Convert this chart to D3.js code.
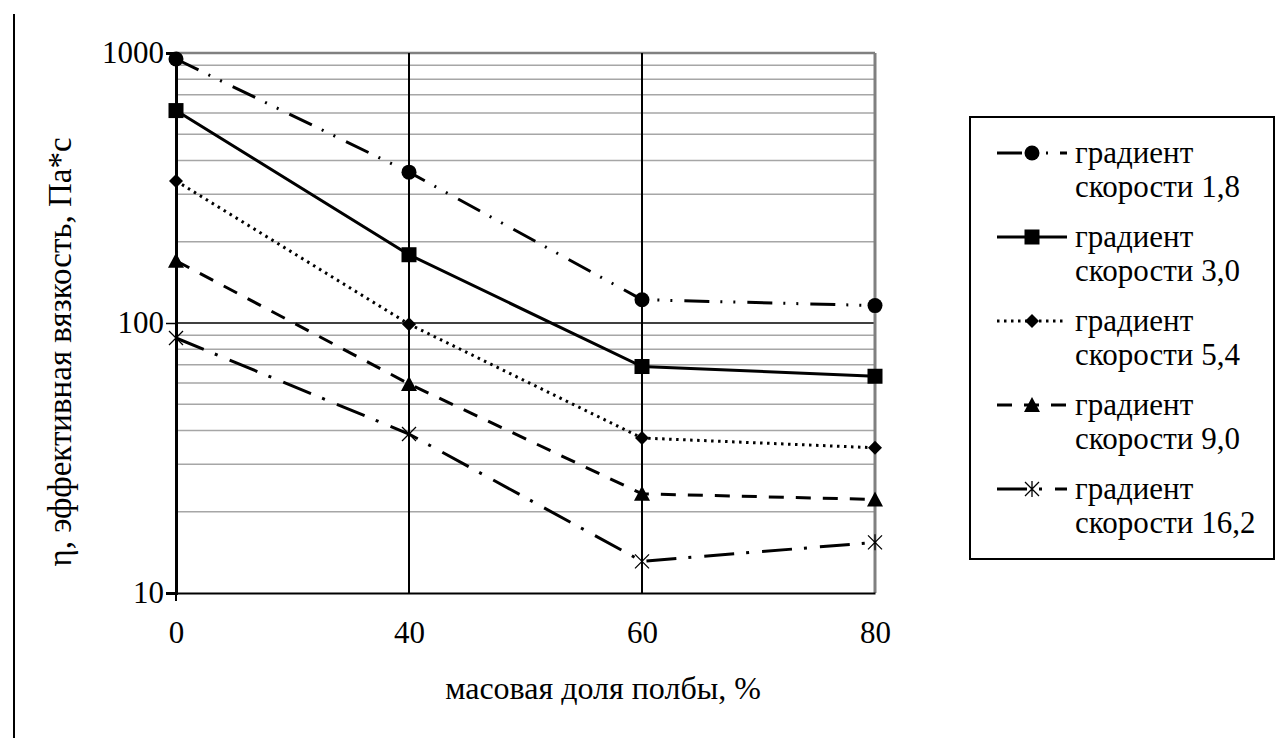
<!DOCTYPE html>
<html>
<head>
<meta charset="utf-8">
<script src="https://cdn.jsdelivr.net/npm/d3@7"></script>
<style>
    html, body { margin: 0; padding: 0; background: #fff; overflow: hidden; }
    svg { display: block; }
</style>
</head>
<body>
<svg id="chart"></svg>
<script>
const CATEGORIES = ['0', '40', '60', '80'];
const SERIES_NAMES = ['скорости 1,8', 'скорости 3,0', 'скорости 5,4', 'скорости 9,0', 'скорости 16,2'];
const V_18 = [950, 362, 122, 116];
const V_30 = [612, 179, 69, 63.5];
const V_54 = [336, 99, 37.5, 34.5];
const V_90 = [170, 59.5, 23.3, 22.2];
const V_162 = [88, 38.8, 13.1, 15.4];
const Y_TICKS = [10, 100, 1000];

const outerWidth = 1278;
const outerHeight = 738;
const margin = { top: 53, left: 176, bottom: 145, right: 403 };
const innerWidth = outerWidth - margin.left - margin.right;
const innerHeight = outerHeight - margin.top - margin.bottom;
const FONT = 'Liberation Serif';

const styles = [
    { dash: '25,11,2,11,2,12', marker: 'circle' },
    { dash: null, marker: 'square' },
    { dash: '2.5,4.5', marker: 'diamond' },
    { dash: '15,12', marker: 'triangle' },
    { dash: '30,12,3,13', marker: 'star' }
];
const DATA = [V_18, V_30, V_54, V_90, V_162].map((vals, i) => ({
    name: SERIES_NAMES[i],
    values: vals.map((v, j) => ({ cat: CATEGORIES[j], v })),
    ...styles[i]
}));

const xScale = d3.scalePoint()
    .domain(CATEGORIES)
    .range([0, innerWidth]);

const yScale = d3.scaleLog()
    .domain([10, 1000])
    .range([innerHeight, 0]);

const svg = d3.select('#chart')
    .attr('width', outerWidth)
    .attr('height', outerHeight)
    .attr('font-family', FONT);

// left frame line
svg.append('line')
    .attr('x1', 14).attr('x2', 14)
    .attr('y1', 14).attr('y2', outerHeight)
    .attr('stroke', '#000')
    .attr('stroke-width', 2);

const g = svg.append('g')
    .attr('transform', `translate(${margin.left},${margin.top})`);

// minor gridlines
const minor = [];
[10, 100].forEach(base => {
    for (let k = 2; k <= 9; k++) minor.push(base * k);
});
g.selectAll('.minor')
    .data(minor)
    .join('line')
        .classed('minor', true)
        .attr('x1', 0).attr('x2', innerWidth)
        .attr('y1', d => yScale(d)).attr('y2', d => yScale(d))
        .attr('stroke', '#a6a6a6')
        .attr('stroke-width', 1.5);

g.append('line')
    .attr('x1', 0).attr('x2', innerWidth)
    .attr('y1', yScale(1000)).attr('y2', yScale(1000))
    .attr('stroke', '#808080')
    .attr('stroke-width', 2.5);

g.append('line')
    .attr('x1', 0).attr('x2', innerWidth)
    .attr('y1', yScale(100)).attr('y2', yScale(100))
    .attr('stroke', '#000')
    .attr('stroke-width', 1.5);

// vertical gridlines
g.selectAll('.vgrid')
    .data(CATEGORIES.slice(1))
    .join('line')
        .classed('vgrid', true)
        .attr('x1', d => xScale(d)).attr('x2', d => xScale(d))
        .attr('y1', 0).attr('y2', innerHeight)
        .attr('stroke', d => d === '80' ? '#808080' : '#000')
        .attr('stroke-width', d => d === '80' ? 3 : 2);

// axes
const xAxis = d3.axisBottom(xScale).tickSize(0).tickPadding(28);
g.append('g')
    .classed('xAxis', true)
    .attr('transform', `translate(0,${innerHeight})`)
    .call(xAxis)
    .attr('font-family', FONT)
    .attr('font-size', 31)
    .call(s => s.select('.domain').attr('stroke', '#000').attr('stroke-width', 2))
    .call(s => s.selectAll('text').attr('fill', '#000'));

g.append('line')
    .attr('x1', 0).attr('x2', 0)
    .attr('y1', innerHeight).attr('y2', innerHeight + 8)
    .attr('stroke', '#000')
    .attr('stroke-width', 2);

const yAxis = d3.axisLeft(yScale)
    .tickValues(Y_TICKS)
    .tickFormat(d3.format('d'))
    .tickSize(10)
    .tickPadding(2);
g.append('g')
    .classed('yAxis', true)
    .call(yAxis)
    .attr('font-family', FONT)
    .attr('font-size', 31)
    .call(s => s.select('.domain').attr('stroke', '#000').attr('stroke-width', 3))
    .call(s => s.selectAll('.tick line').attr('stroke', '#000').attr('stroke-width', 1.5))
    .call(s => s.selectAll('text').attr('fill', '#000'));

// series
const line = d3.line()
    .x(d => xScale(d.cat))
    .y(d => yScale(d.v));

g.selectAll('.series')
    .data(DATA)
    .join('path')
        .classed('series', true)
        .attr('d', d => line(d.values))
        .attr('fill', 'none')
        .attr('stroke', '#000')
        .attr('stroke-width', 3)
        .attr('stroke-dasharray', d => d.dash);

const drawMarker = (sel, type, x, y) => {
    if (type === 'circle') {
        sel.append('circle').attr('cx', x).attr('cy', y).attr('r', 7.5).attr('fill', '#000');
    } else if (type === 'square') {
        sel.append('rect').attr('x', x - 7.5).attr('y', y - 7.5).attr('width', 15).attr('height', 15).attr('fill', '#000');
    } else if (type === 'diamond') {
        sel.append('path').attr('d', `M${x},${y - 7}L${x + 7},${y}L${x},${y + 7}L${x - 7},${y}Z`).attr('fill', '#000');
    } else if (type === 'triangle') {
        sel.append('path').attr('d', `M${x},${y - 8}L${x + 8},${y + 7}L${x - 8},${y + 7}Z`).attr('fill', '#000');
    } else {
        sel.append('path')
            .attr('d', `M${x - 7},${y - 7}L${x + 7},${y + 7}M${x - 7},${y + 7}L${x + 7},${y - 7}M${x},${y - 8}L${x},${y + 8}`)
            .attr('stroke', '#000').attr('stroke-width', 1.3).attr('fill', 'none');
    }
};

DATA.forEach(s => {
    const mg = g.append('g').classed('markers', true);
    s.values.forEach(p => drawMarker(mg, s.marker, xScale(p.cat), yScale(p.v)));
});

// axis titles
svg.append('text')
    .attr('x', 603).attr('y', 699)
    .attr('text-anchor', 'middle')
    .attr('font-size', 32)
    .text('масовая доля полбы, %');

svg.append('text')
    .attr('transform', 'translate(71,352) rotate(-90)')
    .attr('text-anchor', 'middle')
    .attr('font-size', 33)
    .text('η, эффективная  вязкость, Па*с');

// legend
const legend = svg.append('g')
    .classed('legend', true)
    .attr('font-size', 31);
legend.append('rect')
    .attr('x', 970).attr('y', 117)
    .attr('width', 304).attr('height', 442)
    .attr('fill', '#fff')
    .attr('stroke', '#000')
    .attr('stroke-width', 2);

DATA.forEach((s, i) => {
    const y0 = 153 + i * 84;
    legend.append('line')
        .attr('x1', 997).attr('x2', 1067)
        .attr('y1', y0).attr('y2', y0)
        .attr('stroke', '#000')
        .attr('stroke-width', 3)
        .attr('stroke-dasharray', s.dash);
    drawMarker(legend, s.marker, 1032, y0);
    legend.append('text')
        .attr('x', 1075).attr('y', y0 + 10)
        .text('градиент');
    legend.append('text')
        .attr('x', 1075).attr('y', y0 + 44)
        .text(s.name);
});

// force text layout before the picture is taken
svg.selectAll('text').each(function() { this.getComputedTextLength(); });
</script>
</body>
</html>
